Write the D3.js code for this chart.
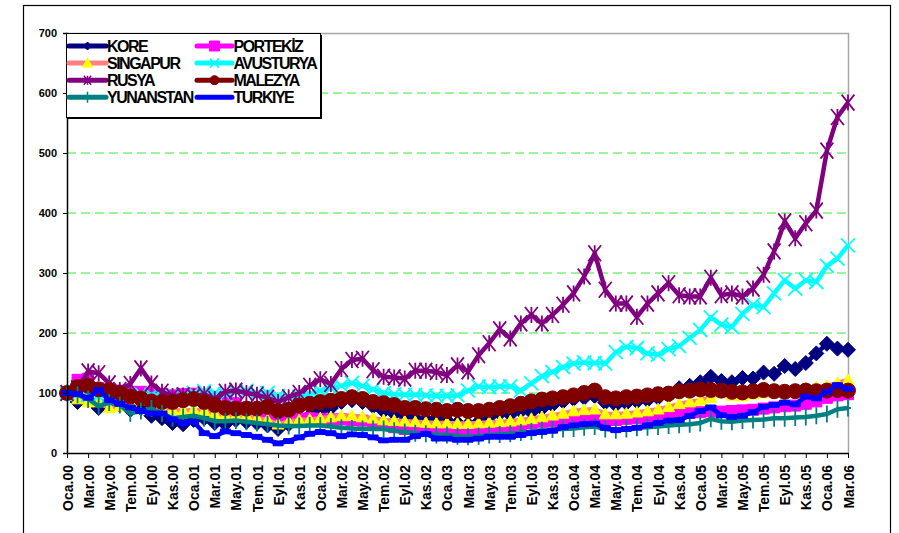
<!DOCTYPE html>
<html>
<head>
<meta charset="utf-8">
<script src="https://cdn.jsdelivr.net/npm/d3@7"></script>
<style>
  html, body { margin: 0; padding: 0; background: #fff; }
  svg { display: block; font-family: "Liberation Sans", Arial, sans-serif; }
</style>
</head>
<body>
<svg id="chart" width="899" height="533"></svg>
<script>
// Tick labels, one every two months (Oca.00 ... Mar.06)
const tickLabels = [
  "Oca.00","Mar.00","May.00","Tem.00","Eyl.00","Kas.00",
  "Oca.01","Mar.01","May.01","Tem.01","Eyl.01","Kas.01",
  "Oca.02","Mar.02","May.02","Tem.02","Eyl.02","Kas.02",
  "Oca.03","Mar.03","May.03","Tem.03","Eyl.03","Kas.03",
  "Oca.04","Mar.04","May.04","Tem.04","Eyl.04","Kas.04",
  "Oca.05","Mar.05","May.05","Tem.05","Eyl.05","Kas.05",
  "Oca.06","Mar.06"
];

// Monthly index values, Ocak 2000 = 100 (75 months: Oca.00 .. Mar.06)
const kore = [100,85,88,75,80,80,72,75,62,58,50,48,55,58,50,48,55,52,50,46,
  40,48,55,62,70,75,85,88,85,78,70,66,62,58,56,58,54,50,48,52,
  60,66,64,70,68,74,80,86,90,92,95,84,80,83,86,88,92,96,108,112,
  118,127,120,118,125,124,134,132,145,140,150,166,182,174,172];
const portekiz = [100,122,124,108,105,104,102,102,100,98,96,98,99,97,92,88,83,75,68,58,
  52,55,57,58,57,56,56,55,54,50,47,43,40,40,39,38,38,37,36,37,
  40,42,45,47,50,52,53,54,56,58,58,55,55,57,58,59,61,63,65,67,
  68,70,69,70,71,72,74,76,78,79,82,86,92,96,98];
const singapur = [100,90,85,85,75,78,85,88,80,75,72,70,72,70,65,63,62,62,58,55,
  48,52,55,56,58,60,62,62,60,58,55,54,53,52,51,50,50,49,49,50,
  51,52,53,55,57,60,63,66,70,72,73,65,65,66,68,70,73,77,82,85,
  88,92,100,96,95,98,100,101,102,103,108,110,112,117,122];
const avusturya = [100,98,97,95,96,95,96,98,97,95,94,96,100,103,100,98,102,104,100,100,
  95,92,94,98,104,108,112,117,112,106,100,98,97,97,96,95,95,96,104,111,
  110,111,111,104,116,128,135,143,149,151,150,149,168,177,175,166,164,173,178,192,
  205,226,214,210,232,247,243,266,288,274,288,285,312,324,346];
const rusya = [100,108,136,133,116,105,115,141,116,102,95,96,94,98,90,102,104,100,97,92,
  85,93,100,112,123,115,140,155,157,138,127,126,124,137,137,135,130,146,136,163,
  183,206,191,216,230,216,230,247,266,294,333,272,249,249,227,249,266,283,263,261,
  261,292,263,266,261,274,297,336,386,358,383,404,504,560,584];
const malezya = [100,110,112,106,105,100,94,91,86,85,85,88,90,85,80,75,74,74,74,77,
  70,72,79,82,85,87,90,93,90,85,83,80,75,75,73,72,70,72,70,70,
  72,75,78,82,86,89,91,93,96,100,104,93,91,93,94,96,98,99,103,104,
  106,105,104,102,101,103,105,103,102,103,104,103,104,105,104];
const yunanistan = [100,97,90,78,84,80,66,70,74,66,58,60,62,58,53,53,54,52,50,48,
  46,45,45,46,46,44,42,41,40,40,40,37,35,33,32,30,30,28,27,28,
  30,31,32,34,36,38,39,40,41,43,44,40,38,40,42,43,44,46,47,48,
  50,57,53,52,54,55,56,58,58,59,60,62,65,73,75];
const turkiye = [100,98,92,105,88,82,76,70,66,66,56,50,52,33,28,36,33,30,27,22,
  16,20,26,32,35,33,28,31,30,26,21,22,22,28,32,24,24,22,22,24,
  27,27,27,30,33,35,37,43,46,48,49,42,38,40,42,46,50,54,55,62,
  70,76,63,60,62,68,77,80,84,81,94,91,102,113,107];

const seriesNames = ["KORE","PORTEKİZ","SINGAPUR","AVUSTURYA","RUSYA","MALEZYA","YUNANSTAN","TURKIYE"];
const seriesValues = [kore, portekiz, singapur, avusturya, rusya, malezya, yunanistan, turkiye];
const yTicks = [0,100,200,300,400,500,600,700];

// Line colour, marker colour and marker shape for each series
const styles = {
  "KORE":      {line: "#000080", mark: "#000080", shape: "diamond",  size: 15, legendSize: 8},
  "PORTEKİZ":  {line: "#ff00ff", mark: "#ff00ff", shape: "square",   size: 11, legendSize: 10},
  "SINGAPUR":  {line: "#ff8080", mark: "#ffff00", shape: "triangle", size: 12, legendSize: 10},
  "AVUSTURYA": {line: "#00ffff", mark: "#00ffff", shape: "x",        size: 14, legendSize: 9},
  "RUSYA":     {line: "#800080", mark: "#800080", shape: "star",     size: 16, legendSize: 9},
  "MALEZYA":   {line: "#800000", mark: "#800000", shape: "circle",   size: 15, legendSize: 9},
  "YUNANSTAN": {line: "#008080", mark: "#008080", shape: "plus",     size: 17, legendSize: 11},
  "TURKIYE":   {line: "#0000ff", mark: "#0000ff", shape: "dash",     size: 10, legendSize: 0}
};

function markerPath(shape, s) {
  const h = s / 2;
  switch (shape) {
    case "diamond":  return `M0,${-h}L${h},0L0,${h}L${-h},0Z`;
    case "square":   return `M${-h},${-h}h${s}v${s}h${-s}Z`;
    case "triangle": return `M0,${-h}L${h},${h * 0.8}L${-h},${h * 0.8}Z`;
    case "x":        return `M${-h},${-h}L${h},${h}M${h},${-h}L${-h},${h}`;
    case "star":     return `M${-h * 0.8},${-h}L${h * 0.8},${h}M${h * 0.8},${-h}L${-h * 0.8},${h}M0,${-h}V${h}`;
    case "circle":   return `M${-h},0A${h},${h} 0 1,0 ${h},0A${h},${h} 0 1,0 ${-h},0Z`;
    case "plus":     return `M0,${-h}V${h}M${-h * 0.35},0H${h * 0.35}`;
    case "dash":     return `M${-h},-2.4h${s}v4.8h${-s}Z`;
  }
  return "";
}
const strokeOnly = new Set(["x", "star", "plus"]);

const svg = d3.select("#chart");

// Outer chart frame
svg.append("rect")
  .attr("x", 23.5).attr("y", 5.5).attr("width", 867).attr("height", 540)
  .attr("fill", "#fff").attr("stroke", "#000").attr("stroke-width", 1.2);

const plot = {left: 67, right: 848, top: 33, bottom: 453};
const x = d3.scaleLinear().domain([0, kore.length - 1]).range([plot.left, plot.right]);
const y = d3.scaleLinear().domain([0, 700]).range([plot.bottom, plot.top]);

// Dashed horizontal gridlines
svg.append("g")
  .selectAll("line")
  .data(yTicks.filter(v => v > 0 && v < 700))
  .join("line")
  .attr("x1", plot.left).attr("x2", plot.right)
  .attr("y1", d => y(d)).attr("y2", d => y(d))
  .attr("stroke", "#33ee33").attr("stroke-width", 1)
  .attr("stroke-dasharray", "9,5");

// Top and right edges of the plot area
svg.append("path")
  .attr("d", `M${plot.left},${plot.top + 0.5}H${plot.right + 0.5}V${plot.bottom}`)
  .attr("fill", "none").attr("stroke", "#a6a6a6").attr("stroke-width", 1.5);

// Series: line then markers, in legend order
const line = d3.line().x((d, i) => x(i)).y(d => y(d));
seriesNames.forEach((name, k) => {
  const st = styles[name];
  const vals = seriesValues[k];
  const g = svg.append("g");
  g.append("path")
    .datum(vals)
    .attr("d", line)
    .attr("fill", "none")
    .attr("stroke", st.line)
    .attr("stroke-width", 4.5)
    .attr("stroke-linejoin", "round");
  g.selectAll("path.m")
    .data(vals)
    .join("path")
    .attr("class", "m")
    .attr("transform", (d, i) => `translate(${x(i)},${y(d)})`)
    .attr("d", markerPath(st.shape, st.size))
    .attr("fill", strokeOnly.has(st.shape) ? "none" : st.mark)
    .attr("stroke", st.mark)
    .attr("stroke-width", strokeOnly.has(st.shape) ? 1.8 : 1);
});

// Axes
const yAxis = svg.append("g")
  .attr("transform", `translate(${plot.left},0)`)
  .call(d3.axisLeft(y).tickValues(yTicks).tickSize(4).tickPadding(6));
yAxis.select(".domain").attr("stroke", "#000").attr("stroke-width", 1.5);
yAxis.selectAll(".tick line").attr("stroke", "#000");
yAxis.selectAll("text")
  .attr("font-family", "'Liberation Sans', Arial, sans-serif")
  .attr("font-size", 11).attr("font-weight", "bold").attr("fill", "#000");

const xAxis = svg.append("g")
  .attr("transform", `translate(0,${plot.bottom})`)
  .call(d3.axisBottom(x)
    .tickValues(d3.range(0, kore.length, 2))
    .tickFormat(i => tickLabels[i / 2])
    .tickSize(5).tickSizeOuter(0));
xAxis.select(".domain").attr("stroke", "#000").attr("stroke-width", 1.5);
xAxis.selectAll(".tick line").attr("stroke", "#000");
xAxis.selectAll("text")
  .attr("font-family", "'Liberation Sans', Arial, sans-serif")
  .attr("font-size", 14).attr("font-weight", "bold").attr("fill", "#000")
  .attr("text-anchor", "end")
  .attr("transform", "rotate(-90)")
  .attr("x", -12).attr("y", 0).attr("dy", "0.36em");

// Legend box (two columns, four rows)
const legend = svg.append("g");
legend.append("rect")
  .attr("x", 68).attr("y", 35).attr("width", 254).attr("height", 84)
  .attr("fill", "#000");
legend.append("rect")
  .attr("x", 66.5).attr("y", 33.5).attr("width", 254).attr("height", 84)
  .attr("fill", "#fff").attr("stroke", "#000").attr("stroke-width", 1);

const cols = [{x1: 69, x2: 106, tx: 107}, {x1: 197, x2: 232, tx: 233.5}];
seriesNames.forEach((name, k) => {
  const st = styles[name];
  const c = cols[k % 2];
  const ry = 46 + Math.floor(k / 2) * 17.1;
  legend.append("line")
    .attr("x1", c.x1).attr("x2", c.x2).attr("y1", ry).attr("y2", ry)
    .attr("stroke", st.line).attr("stroke-width", 5).attr("stroke-linecap", "round");
  if (st.legendSize > 0) {
    legend.append("path")
      .attr("transform", `translate(${(c.x1 + c.x2) / 2},${ry})`)
      .attr("d", markerPath(st.shape, st.legendSize))
      .attr("fill", strokeOnly.has(st.shape) ? "none" : st.mark)
      .attr("stroke", st.mark)
      .attr("stroke-width", strokeOnly.has(st.shape) ? 1.5 : 1);
  }
  legend.append("text")
    .attr("x", c.tx).attr("y", ry + 5.8)
    .attr("font-size", 16).attr("font-weight", "bold")
    .attr("letter-spacing", "-1.5px")
    .attr("fill", "#000")
    .text(name);
});
</script>
</body>
</html>
